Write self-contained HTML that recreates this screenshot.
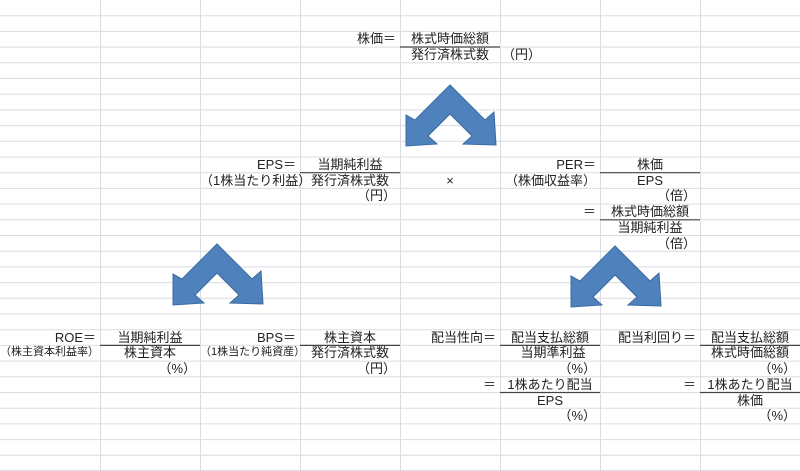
<!DOCTYPE html>
<html><head><meta charset="utf-8"><style>
body{margin:0;width:800px;height:471px;overflow:hidden;background:#fff;position:relative;font-family:"Liberation Sans","Noto Sans CJK JP",sans-serif;color:#222}
svg{position:absolute;left:0;top:0}
.t{position:absolute;font-size:13px;line-height:15.7px;height:15.7px;white-space:nowrap;width:96px}
.r{text-align:right}.c{text-align:center;width:100px}.s{font-size:11px}
</style></head><body>
<svg width="800" height="471">
<g stroke="#d9dde3" stroke-width="1">
<line x1="100.5" y1="0" x2="100.5" y2="471"/><line x1="200.5" y1="0" x2="200.5" y2="471"/><line x1="300.5" y1="0" x2="300.5" y2="471"/><line x1="400.5" y1="0" x2="400.5" y2="471"/><line x1="500.5" y1="0" x2="500.5" y2="471"/><line x1="600.5" y1="0" x2="600.5" y2="471"/><line x1="700.5" y1="0" x2="700.5" y2="471"/>
<line x1="0" y1="15.7" x2="800" y2="15.7"/><line x1="0" y1="31.4" x2="800" y2="31.4"/><line x1="0" y1="47.1" x2="800" y2="47.1"/><line x1="0" y1="62.8" x2="800" y2="62.8"/><line x1="0" y1="78.5" x2="800" y2="78.5"/><line x1="0" y1="94.2" x2="800" y2="94.2"/><line x1="0" y1="109.9" x2="800" y2="109.9"/><line x1="0" y1="125.6" x2="800" y2="125.6"/><line x1="0" y1="141.3" x2="800" y2="141.3"/><line x1="0" y1="157" x2="800" y2="157"/><line x1="0" y1="172.7" x2="800" y2="172.7"/><line x1="0" y1="188.4" x2="800" y2="188.4"/><line x1="0" y1="204.1" x2="800" y2="204.1"/><line x1="0" y1="219.8" x2="800" y2="219.8"/><line x1="0" y1="235.5" x2="800" y2="235.5"/><line x1="0" y1="251.2" x2="800" y2="251.2"/><line x1="0" y1="266.9" x2="800" y2="266.9"/><line x1="0" y1="282.6" x2="800" y2="282.6"/><line x1="0" y1="298.3" x2="800" y2="298.3"/><line x1="0" y1="314" x2="800" y2="314"/><line x1="0" y1="329.7" x2="800" y2="329.7"/><line x1="0" y1="345.4" x2="800" y2="345.4"/><line x1="0" y1="361.1" x2="800" y2="361.1"/><line x1="0" y1="376.8" x2="800" y2="376.8"/><line x1="0" y1="392.5" x2="800" y2="392.5"/><line x1="0" y1="408.2" x2="800" y2="408.2"/><line x1="0" y1="423.9" x2="800" y2="423.9"/><line x1="0" y1="439.6" x2="800" y2="439.6"/><line x1="0" y1="455.3" x2="800" y2="455.3"/><line x1="0" y1="470.5" x2="800" y2="470.5"/>
</g>
<g stroke="#444" stroke-width="1.2">
<line x1="400" y1="47" x2="500" y2="47"/>
<line x1="300" y1="172.7" x2="400" y2="172.7"/><line x1="600" y1="172.7" x2="700" y2="172.7"/>
<line x1="600" y1="219.8" x2="700" y2="219.8"/>
<line x1="100" y1="345.4" x2="200" y2="345.4"/><line x1="300" y1="345.4" x2="400" y2="345.4"/><line x1="500" y1="345.4" x2="600" y2="345.4"/><line x1="700" y1="345.4" x2="800" y2="345.4"/>
<line x1="500" y1="392.5" x2="600" y2="392.5"/><line x1="700" y1="392.5" x2="800" y2="392.5"/>
</g>
<defs><polygon id="ch" points="0,0 35,35 44,27 46,60 13,59 22,51 0,29 -22,51 -13,59 -44,61 -44,30 -35,35" fill="#4f81bd" stroke="#3b6aa0" stroke-width="1"/></defs>
<use href="#ch" x="450" y="85"/>
<use href="#ch" x="217" y="244"/>
<use href="#ch" x="615" y="246"/>
</svg>

<div class="t r" style="left:300px;top:31.4px">株価＝</div>
<div class="t c" style="left:400px;top:31.4px">株式時価総額</div>
<div class="t c" style="left:400px;top:47.1px">発行済株式数</div>
<div class="t" style="left:502px;top:47.1px">（円）</div>

<div class="t r" style="left:200px;top:157px">EPS＝</div>
<div class="t c" style="left:300px;top:157px">当期純利益</div>
<div class="t r" style="left:200px;top:172.7px">（1株当たり利益）</div>
<div class="t c" style="left:300px;top:172.7px">発行済株式数</div>
<div class="t c" style="left:400px;top:172.7px">×</div>
<div class="t r" style="left:300px;top:188.4px">（円）</div>

<div class="t r" style="left:500px;top:157px">PER＝</div>
<div class="t c" style="left:600px;top:157px">株価</div>
<div class="t r" style="left:500px;top:172.7px">（株価収益率）</div>
<div class="t c" style="left:600px;top:172.7px">EPS</div>
<div class="t r" style="left:600px;top:188.4px">（倍）</div>
<div class="t r" style="left:500px;top:204.1px">＝</div>
<div class="t c" style="left:600px;top:204.1px">株式時価総額</div>
<div class="t c" style="left:600px;top:219.8px">当期純利益</div>
<div class="t r" style="left:600px;top:235.5px">（倍）</div>

<div class="t r" style="left:0px;top:329.7px">ROE＝</div>
<div class="t c" style="left:100px;top:329.7px">当期純利益</div>
<div class="t r s" style="left:0px;top:345.4px">（株主資本利益率）</div>
<div class="t c" style="left:100px;top:345.4px">株主資本</div>
<div class="t r" style="left:100px;top:361.1px">（%）</div>

<div class="t r" style="left:200px;top:329.7px">BPS＝</div>
<div class="t c" style="left:300px;top:329.7px">株主資本</div>
<div class="t r s" style="left:200px;top:345.4px">（1株当たり純資産）</div>
<div class="t c" style="left:300px;top:345.4px">発行済株式数</div>
<div class="t r" style="left:300px;top:361.1px">（円）</div>

<div class="t r" style="left:400px;top:329.7px">配当性向＝</div>
<div class="t c" style="left:500px;top:329.7px">配当支払総額</div>
<div class="t c" style="left:503px;top:345.4px">当期準利益</div>
<div class="t r" style="left:500px;top:361.1px">（%）</div>
<div class="t r" style="left:400px;top:376.8px">＝</div>
<div class="t c" style="left:500px;top:376.8px">1株あたり配当</div>
<div class="t c" style="left:500px;top:392.5px">EPS</div>
<div class="t r" style="left:500px;top:408.2px">（%）</div>

<div class="t r" style="left:600px;top:329.7px">配当利回り＝</div>
<div class="t c" style="left:700px;top:329.7px">配当支払総額</div>
<div class="t c" style="left:700px;top:345.4px">株式時価総額</div>
<div class="t r" style="left:700px;top:361.1px">（%）</div>
<div class="t r" style="left:600px;top:376.8px">＝</div>
<div class="t c" style="left:700px;top:376.8px">1株あたり配当</div>
<div class="t c" style="left:700px;top:392.5px">株価</div>
<div class="t r" style="left:700px;top:408.2px">（%）</div>
</body></html>
